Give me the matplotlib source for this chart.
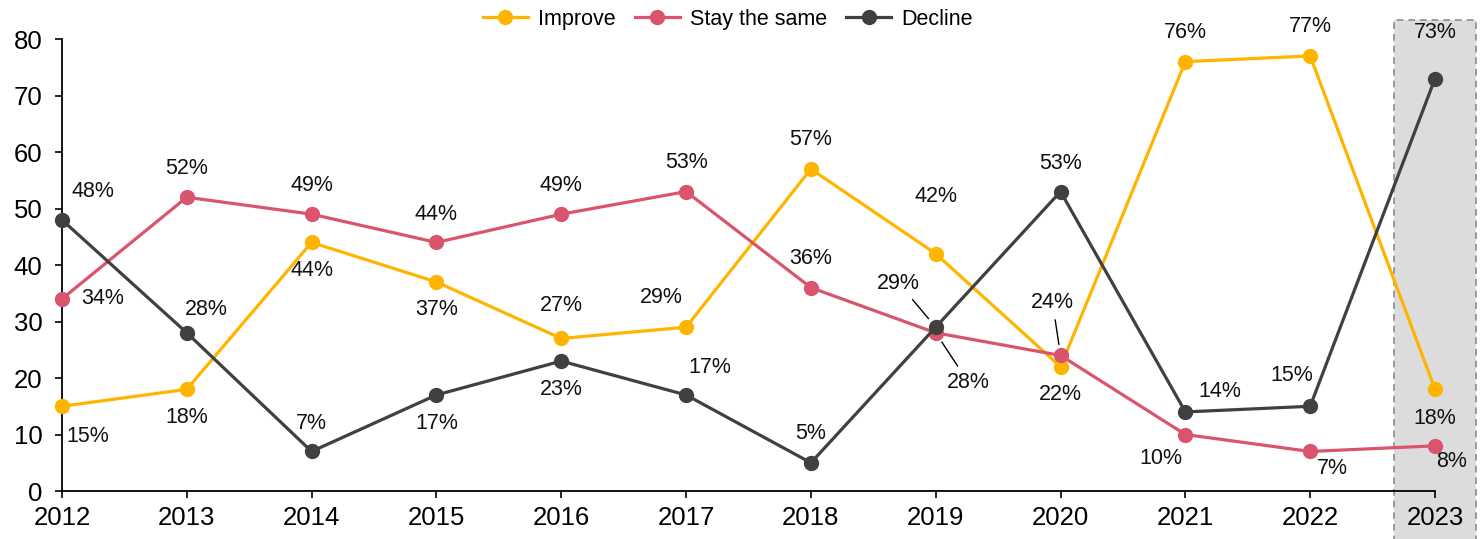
import matplotlib.pyplot as plt
from matplotlib.patches import Rectangle

plt.rcParams['font.family'] = ['Liberation Sans', 'DejaVu Sans']

years = [2012, 2013, 2014, 2015, 2016, 2017, 2018, 2019, 2020, 2021, 2022, 2023]
improve = [15, 18, 44, 37, 27, 29, 57, 42, 22, 76, 77, 18]
same = [34, 52, 49, 44, 49, 53, 36, 28, 24, 10, 7, 8]
decline = [48, 28, 7, 17, 23, 17, 5, 29, 53, 14, 15, 73]

# label offsets in pixels (dx, dy), dy up
off_improve = [(26, -30), (0, -28), (0, -28), (0, -28), (0, 33), (-25, 30), (0, 29), (0, 57), (0, -28), (0, 29), (0, 29), (0, -29)]
off_same = [(41, 0), (0, 29), (0, 29), (0, 28), (0, 29), (0, 29), (0, 29), (33, -50), (-8, 53), (-24, -24), (22, -17), (17, -16)]
off_decline = [(31, 28), (20, 23), (0, 28), (0, -29), (0, -28), (24, 27), (0, 29), (-37, 44), (0, 28), (34, 20), (-18, 31), (0, 46)]
leader = {('same', 2019), ('same', 2020), ('decline', 2019)}

c_imp = '#FFB400'
c_same = '#D9546C'
c_dec = '#404040'

fig = plt.figure(figsize=(14.82, 5.39), dpi=100)
ax = fig.add_axes([0.0418, 0.089, 0.9265, 0.8386])

ax.add_patch(Rectangle((2022.67, -9), 0.66, 92.4, facecolor='#DCDCDC', edgecolor='#8C8C8C',
                       ls=(0, (4, 3)), lw=1.2, clip_on=False, zorder=0))

series = [('Improve', improve, c_imp, off_improve, 'improve'),
          ('Stay the same', same, c_same, off_same, 'same'),
          ('Decline', decline, c_dec, off_decline, 'decline')]

for name, vals, col, offs, key in series:
    ax.plot(years, vals, color=col, lw=2.3, marker='o', ms=10, label=name, clip_on=False, zorder=3)
    for yr, v, (dx, dy) in zip(years, vals, offs):
        kw = {}
        if (key, yr) in leader:
            kw['arrowprops'] = dict(arrowstyle='-', color='black', lw=1, shrinkA=3, shrinkB=8)
        ax.annotate(f'{v}%', (yr, v), xytext=(dx, dy), textcoords='offset pixels',
                    ha='center', va='center', fontsize=15.5, color='#111111', zorder=4, **kw)

ax.set_xlim(2012, 2023)
ax.set_ylim(0, 80)
ax.set_xticks(years)
ax.set_yticks(range(0, 81, 10))
ax.tick_params(labelsize=18.5, length=5, width=1.2, direction='out')
ax.tick_params(axis='x', pad=6)
ax.tick_params(axis='y', pad=9)
for s in ['top', 'right']:
    ax.spines[s].set_visible(False)
for s in ['left', 'bottom']:
    ax.spines[s].set_linewidth(1.3)
ax.patch.set_visible(False)

fig.legend(loc='upper center', bbox_to_anchor=(0.491, 1.02), ncol=3, frameon=False,
           fontsize=15.5, handlelength=2.1, columnspacing=0.9, handletextpad=0.45)

fig.savefig('out.png', dpi=100)
